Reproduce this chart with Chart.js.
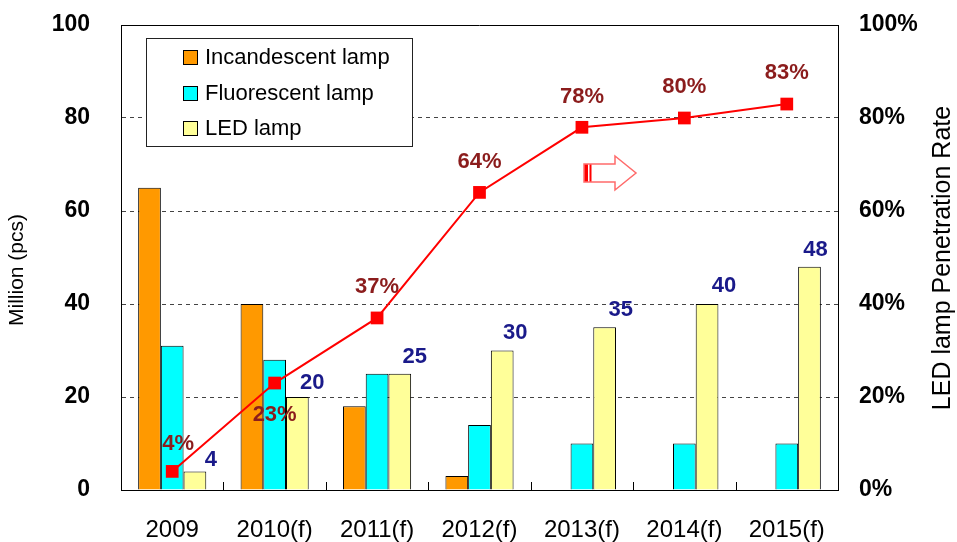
<!DOCTYPE html>
<html>
<head>
<meta charset="utf-8">
<script src="https://cdn.jsdelivr.net/npm/chart.js@4.4.1/dist/chart.umd.min.js"></script>
<style>
html, body { margin: 0; padding: 0; background: #fff; }
#wrap { width: 957px; height: 542px; position: relative; }
</style>
</head>
<body>
<div id="wrap"><canvas id="lampChart"></canvas></div>
<script>
// Data
const years = ['2009', '2010(f)', '2011(f)', '2012(f)', '2013(f)', '2014(f)', '2015(f)'];
const incandescent = [65, 40, 18, 3, 0, 0, 0];
const fluorescent = [31, 28, 25, 14, 10, 10, 10];
const ledLamp = [4, 20, 25, 30, 35, 40, 48];
const penetration = [4, 23, 37, 64, 78, 80, 83];

const FONT = '"Liberation Sans", Arial, sans-serif';

// label nudges (pixels) so labels sit where the original put them
const pctOffsets = [[6, -27], [0, 32], [0, -31], [0, -30], [0, -30], [0, -31], [0, -31]];
const ledOffsets = [[16, -11], [15, -14], [15, -17], [13, -18], [16, -17], [17, -18], [6, -17]];

const valueLabels = {
    id: 'valueLabels',
    afterDatasetsDraw(chart) {
        const { ctx } = chart;
        ctx.save();
        ctx.font = 'bold 22px ' + FONT;
        ctx.textAlign = 'center';
        ctx.textBaseline = 'middle';

        // LED bar values
        ctx.fillStyle = '#1a1a8a';
        chart.getDatasetMeta(2).data.forEach((bar, i) => {
            const [dx, dy] = ledOffsets[i];
            ctx.fillText(String(ledLamp[i]), bar.x + dx, bar.y + dy);
        });

        // penetration rate labels
        ctx.fillStyle = '#8b1c1c';
        chart.getDatasetMeta(3).data.forEach((pt, i) => {
            const [dx, dy] = pctOffsets[i];
            ctx.fillText(penetration[i] + '%', pt.x + dx, pt.y + dy);
        });
        ctx.restore();
    }
};

const frameAndLegend = {
    id: 'frameAndLegend',
    afterDraw(chart) {
        const { ctx, chartArea: a, scales } = chart;
        ctx.save();

        // top frame line
        ctx.strokeStyle = '#000';
        ctx.lineWidth = 1;
        ctx.beginPath();
        ctx.moveTo(a.left, Math.round(a.top) + 0.5);
        ctx.lineTo(a.right, Math.round(a.top) + 0.5);
        ctx.stroke();

        // small ticks between categories, pointing up
        const x = scales.x;
        const step = (x.getPixelForValue(1) - x.getPixelForValue(0));
        for (let i = 1; i < years.length; i++) {
            const px = Math.round(x.getPixelForValue(i) - step / 2) + 0.5;
            ctx.beginPath();
            ctx.moveTo(px, a.bottom);
            ctx.lineTo(px, a.bottom - 8);
            ctx.stroke();
        }

        // legend box
        ctx.fillStyle = '#fff';
        ctx.fillRect(146.5, 38.5, 266, 108);
        ctx.strokeStyle = '#222';
        ctx.strokeRect(146.5, 38.5, 266, 108);
        ctx.font = '22px ' + FONT;
        ctx.textAlign = 'left';
        ctx.textBaseline = 'middle';
        chart.data.datasets.slice(0, 3).forEach((ds, i) => {
            const cy = 57 + i * 35.5;
            ctx.fillStyle = ds.backgroundColor;
            ctx.fillRect(183.5, Math.round(cy - 7) + 0.5, 14, 14);
            ctx.strokeStyle = '#000';
            ctx.strokeRect(183.5, Math.round(cy - 7) + 0.5, 14, 14);
            ctx.fillStyle = '#000';
            ctx.fillText(ds.label, 205, cy + 1);
        });

        // hollow arrow pointing to the right axis
        const fx = v => a.left + (v - 121) / 717 * a.width;
        const fy = v => a.top + (v - 25) / 465 * a.height;
        ctx.fillStyle = '#ff0000';
        ctx.fillRect(fx(584), fy(164), 4, fy(182) - fy(164));
        ctx.fillRect(fx(589.5), fy(164), 2, fy(182) - fy(164));
        ctx.strokeStyle = '#ff6b6b';
        ctx.lineWidth = 1.5;
        ctx.beginPath();
        ctx.moveTo(fx(584), fy(164));
        ctx.lineTo(fx(615), fy(164));
        ctx.lineTo(fx(615), fy(156));
        ctx.lineTo(fx(636), fy(173));
        ctx.lineTo(fx(615), fy(190));
        ctx.lineTo(fx(615), fy(182));
        ctx.lineTo(fx(584), fy(182));
        ctx.closePath();
        ctx.stroke();

        // axis titles
        ctx.fillStyle = '#000';
        ctx.font = '21px ' + FONT;
        ctx.textAlign = 'center';
        ctx.textBaseline = 'middle';
        ctx.translate(17, 270);
        ctx.rotate(-Math.PI / 2);
        ctx.fillText('Million (pcs)', 0, 0);
        ctx.setTransform(1, 0, 0, 1, 0, 0);
        ctx.font = '25px ' + FONT;
        ctx.translate(943, 258);
        ctx.rotate(-Math.PI / 2);
        ctx.fillText('LED lamp Penetration Rate', 0, 0);
        ctx.restore();
    }
};

function fitY(width) {
    return s => {
        s.width = width;
        s.paddingTop = 0;
        s.paddingBottom = 0;
    };
}

const ctx = document.getElementById('lampChart').getContext('2d');
new Chart(ctx, {
    data: {
        labels: years,
        datasets: [
            {
                type: 'bar', label: 'Incandescent lamp', data: incandescent,
                backgroundColor: '#ff9900', borderColor: '#000', borderWidth: 1,
                categoryPercentage: 0.665, barPercentage: 1, order: 1
            },
            {
                type: 'bar', label: 'Fluorescent lamp', data: fluorescent,
                backgroundColor: '#00ffff', borderColor: '#000', borderWidth: 1,
                categoryPercentage: 0.665, barPercentage: 1, order: 1
            },
            {
                type: 'bar', label: 'LED lamp', data: ledLamp,
                backgroundColor: '#ffff99', borderColor: '#000', borderWidth: 1,
                categoryPercentage: 0.665, barPercentage: 1, order: 1
            },
            {
                type: 'line', label: 'LED lamp Penetration Rate', data: penetration,
                yAxisID: 'y1', borderColor: '#ff0000', borderWidth: 2,
                pointStyle: 'rect', pointRadius: 9, pointBackgroundColor: '#ff0000',
                pointBorderWidth: 0, tension: 0, order: 0
            }
        ]
    },
    options: {
        responsive: true,
        maintainAspectRatio: false,
        animation: false,
        layout: { padding: { top: 25, left: 0, right: 0, bottom: 0 } },
        plugins: {
            legend: { display: false },
            tooltip: { enabled: false }
        },
        scales: {
            x: {
                grid: { display: false },
                border: { display: true, color: '#000', width: 1 },
                ticks: { color: '#000', font: { family: FONT, size: 24 }, padding: 18, maxRotation: 0 },
                afterFit: s => { s.height = 52; s.paddingLeft = 0; s.paddingRight = 0; }
            },
            y: {
                position: 'left',
                min: 0, max: 100,
                ticks: { stepSize: 20, color: '#000', padding: 31, font: { family: FONT, size: 23, weight: 'bold' } },
                grid: {
                    drawTicks: false,
                    color: c => (c.tick.value === 0 || c.tick.value === 100) ? 'rgba(0,0,0,0)' : '#444'
                },
                border: { display: true, color: '#000', width: 1, dash: [4, 4] },
                afterFit: fitY(121)
            },
            y1: {
                position: 'right',
                min: 0, max: 100,
                ticks: {
                    stepSize: 20, color: '#000', padding: 21,
                    font: { family: FONT, size: 23, weight: 'bold' },
                    callback: v => v + '%'
                },
                grid: { drawOnChartArea: false, drawTicks: false },
                border: { display: true, color: '#000', width: 1 },
                afterFit: fitY(119)
            }
        }
    },
    plugins: [valueLabels, frameAndLegend]
});
</script>
</body>
</html>
